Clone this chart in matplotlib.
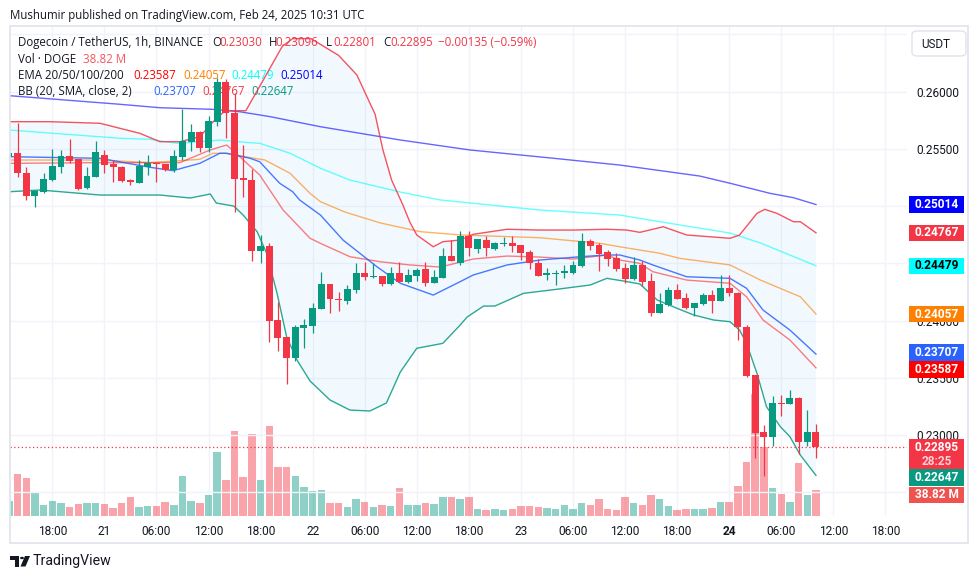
import numpy as np
import matplotlib
matplotlib.use("Agg")
import matplotlib.pyplot as plt
from matplotlib.patches import Rectangle, FancyBboxPatch, Polygon, Circle

plt.rcParams['font.family'] = ['Roboto', 'DejaVu Sans']

# ---------------- data ----------------
# 1h candles DOGE/USDT (Binance). Hour 0 = 2025-02-20 18:00 UTC, first candle at hour -5.
start_hour = -5
opens = [0.25427, 0.25467, 0.25292, 0.25091, 0.25126, 0.25228, 0.25345, 0.25438, 0.25409, 0.25156,
         0.25257, 0.25450, 0.25366, 0.25345, 0.25231, 0.25205, 0.25339, 0.25374, 0.25365, 0.25316,
         0.25432, 0.25560, 0.25650, 0.25505, 0.25738, 0.26082, 0.25811, 0.25243, 0.25228, 0.24611,
         0.24652, 0.24005, 0.23859, 0.23675, 0.23938, 0.23955, 0.24101, 0.24319, 0.24191, 0.24174,
         0.24267, 0.24418, 0.24378, 0.24390, 0.24319, 0.24418, 0.24340, 0.24390, 0.24448, 0.24331,
         0.24375, 0.24564, 0.24500, 0.24739, 0.24628, 0.24704, 0.24628, 0.24672, 0.24680, 0.24660,
         0.24597, 0.24500, 0.24401, 0.24407, 0.24418, 0.24418, 0.24477, 0.24695, 0.24660, 0.24597,
         0.24549, 0.24457, 0.24363, 0.24486, 0.24348, 0.24069, 0.24136, 0.24267, 0.24197, 0.24112,
         0.24145, 0.24223, 0.24174, 0.24287, 0.24238, 0.23946, 0.23524, 0.23026, 0.22985, 0.23282,
         0.23273, 0.23326, 0.22941, 0.23030]
highs = [0.25470, 0.25724, 0.25342, 0.25140, 0.25289, 0.25499, 0.25490, 0.25584, 0.25412, 0.25339,
         0.25569, 0.25490, 0.25403, 0.25350, 0.25235, 0.25403, 0.25444, 0.25380, 0.25370, 0.25490,
         0.25846, 0.25718, 0.25655, 0.25788, 0.26117, 0.26111, 0.25991, 0.25534, 0.25322, 0.24748,
         0.24680, 0.24165, 0.23860, 0.23959, 0.24011, 0.24151, 0.24427, 0.24320, 0.24252, 0.24310,
         0.24506, 0.24514, 0.24506, 0.24392, 0.24471, 0.24512, 0.24450, 0.24457, 0.24514, 0.24442,
         0.24631, 0.24704, 0.24783, 0.24783, 0.24715, 0.24739, 0.24685, 0.24728, 0.24739, 0.24662,
         0.24617, 0.24538, 0.24457, 0.24442, 0.24486, 0.24523, 0.24763, 0.24710, 0.24675, 0.24617,
         0.24588, 0.24500, 0.24552, 0.24520, 0.24413, 0.24238, 0.24295, 0.24319, 0.24238, 0.24155,
         0.24243, 0.24267, 0.24398, 0.24398, 0.24252, 0.23961, 0.23525, 0.23087, 0.23341, 0.23349,
         0.23393, 0.23330, 0.23218, 0.23096]
lows = [0.25420, 0.25257, 0.25054, 0.24995, 0.25115, 0.25220, 0.25287, 0.25374, 0.25141, 0.25150,
        0.25255, 0.25292, 0.25214, 0.25215, 0.25182, 0.25200, 0.25272, 0.25214, 0.25310, 0.25298,
        0.25403, 0.25484, 0.25476, 0.25476, 0.25703, 0.25593, 0.24951, 0.25077, 0.24523, 0.24506,
        0.23815, 0.23737, 0.23443, 0.23647, 0.23758, 0.23889, 0.24100, 0.24069, 0.24086, 0.24142,
        0.24243, 0.24354, 0.24375, 0.24301, 0.24315, 0.24335, 0.24326, 0.24348, 0.24301, 0.24325,
        0.24370, 0.24520, 0.24490, 0.24564, 0.24593, 0.24564, 0.24617, 0.24652, 0.24602, 0.24529,
        0.24451, 0.24390, 0.24354, 0.24310, 0.24375, 0.24407, 0.24471, 0.24617, 0.24433, 0.24477,
        0.24436, 0.24326, 0.24355, 0.24301, 0.24040, 0.24065, 0.24130, 0.24185, 0.24101, 0.24040,
        0.24136, 0.24069, 0.24170, 0.24215, 0.23830, 0.23504, 0.22802, 0.22644, 0.22904, 0.23169,
        0.23270, 0.22834, 0.22906, 0.22801]
closes = [0.25467, 0.25292, 0.25091, 0.25132, 0.25237, 0.25351, 0.25435, 0.25397, 0.25152, 0.25263,
          0.25473, 0.25359, 0.25339, 0.25220, 0.25208, 0.25351, 0.25374, 0.25365, 0.25316, 0.25438,
          0.25569, 0.25645, 0.25505, 0.25744, 0.26082, 0.25811, 0.25234, 0.25228, 0.24611, 0.24652,
          0.23999, 0.23850, 0.23675, 0.23946, 0.23961, 0.24112, 0.24319, 0.24186, 0.24180, 0.24276,
          0.24418, 0.24383, 0.24390, 0.24319, 0.24418, 0.24340, 0.24398, 0.24442, 0.24331, 0.24381,
          0.24564, 0.24523, 0.24739, 0.24631, 0.24710, 0.24631, 0.24675, 0.24680, 0.24654, 0.24593,
          0.24500, 0.24392, 0.24413, 0.24418, 0.24431, 0.24486, 0.24695, 0.24652, 0.24582, 0.24538,
          0.24451, 0.24363, 0.24486, 0.24340, 0.24069, 0.24145, 0.24267, 0.24189, 0.24112, 0.24151,
          0.24223, 0.24174, 0.24287, 0.24238, 0.23941, 0.23516, 0.23020, 0.22985, 0.23282, 0.23273,
          0.23326, 0.22941, 0.23030, 0.22895]
volumes_m = [23, 64, 58, 37, 17, 23, 20, 14, 18, 20,
             20, 18, 12, 20, 29, 14, 15, 15, 21, 17,
             61, 23, 20, 32, 98, 55, 130, 60, 126, 55,
             138, 75, 74, 61, 44, 38, 40, 20, 20, 14,
             26, 21, 14, 17, 15, 43, 17, 17, 20, 18,
             28, 28, 26, 28, 11, 9, 11, 9, 11, 15,
             15, 14, 12, 11, 17, 11, 20, 17, 26, 11,
             9, 28, 20, 17, 31, 25, 15, 9, 11, 11,
             11, 12, 21, 21, 46, 83, 187, 106, 43, 34,
             21, 81, 31, 38.82]

# indicator lines: (hour, price)
ema20_t = [-4.9, 5.5, 14.7, 18.2, 20.1, 21.6, 23.9, 26.6, 29.7, 30.9, 34.3, 37.8, 41.2, 44.7, 48.5, 52.4,
           56.2, 60.0, 63.9, 65.4, 67.7, 69.2, 73.1, 78.1, 80.0, 81.9, 85.0, 88]
ema20_v = [0.25374, 0.2538, 0.2538, 0.25491, 0.25534, 0.25432, 0.25272, 0.24966, 0.24719, 0.24675,
           0.24558, 0.24514, 0.24486, 0.24468, 0.24538, 0.24564, 0.24555, 0.24538, 0.24573, 0.24529,
           0.245, 0.24427, 0.24354, 0.24326, 0.24208, 0.24005, 0.2383, 0.23587]
ema50_t = [-4.9, 5.5, 11.3, 17.0, 18.5, 19.9, 22.2, 24.5, 27.4, 29.7, 30.9, 33.7, 37.8, 42.4, 47.0, 56.2,
           63.1, 65.4, 70.0, 72.3, 78.1, 81.6, 86.2, 88]
ema50_v = [0.25403, 0.25403, 0.2538, 0.25409, 0.25462, 0.25462, 0.25432, 0.25403, 0.25287, 0.25112,
           0.25039, 0.24949, 0.24853, 0.24777, 0.24748, 0.24724, 0.24675, 0.24645, 0.24588, 0.24544,
           0.24486, 0.24354, 0.24208, 0.24057]
ema100_t = [-4.9, 7.8, 11.3, 14.4, 18.5, 19.3, 22.8, 23.9, 27.4, 30.9, 34.3, 40.1, 44.7, 56.2, 65.4, 70.0,
            78.1, 81.6, 88]
ema100_v = [0.25665, 0.25593, 0.25584, 0.25549, 0.25572, 0.25578, 0.25554, 0.25549, 0.25462, 0.25331,
            0.25228, 0.25123, 0.25054, 0.24966, 0.24922, 0.24864, 0.24765, 0.24678, 0.24479]
ema200_t = [-4.9, 7.8, 12.4, 18.5, 21.6, 25.1, 30.9, 40.1, 48.1, 57.4, 65.4, 74.6, 78.1, 82.7, 85.4, 88]
ema200_v = [0.25965, 0.2589, 0.2586, 0.25846, 0.25825, 0.25782, 0.25694, 0.25578, 0.25491, 0.25421,
            0.25359, 0.25263, 0.252, 0.25112, 0.25074, 0.25014]
bb_mid_t = [-4.9, 5.5, 11.3, 13.9, 17.0, 19.3, 20.1, 22.8, 23.9, 26.2, 27.7, 28.5, 30.9, 33.5, 37.4, 40.1,
            43.9, 47.0, 48.5, 52.4, 56.2, 60.8, 63.9, 65.4, 67.7, 69.2, 73.1, 78.1, 80.0, 81.9, 85.0, 88]
bb_mid_v = [0.25432, 0.25418, 0.25339, 0.2531, 0.25374, 0.25462, 0.25462, 0.25418, 0.25388, 0.252,
            0.25126, 0.25054, 0.24922, 0.24704, 0.24471, 0.24326, 0.24223, 0.2434, 0.24398, 0.24486,
            0.24529, 0.24558, 0.24573, 0.24573, 0.24529, 0.24486, 0.24383, 0.24369, 0.24282, 0.24092,
            0.23917, 0.23707]
bb_up_t = [-4.9, -0.3, 5.5, 10.1, 12.4, 14.7, 17.0, 18.5, 19.9, 22.3, 24.4, 26.5, 27.7, 29.8, 33.0, 35.1,
           37.2, 38.1, 39.1, 40.4, 41.2, 42.0, 43.9, 45.0, 47.0, 48.5, 52.4, 56.2, 60.0, 63.9, 66.2, 67.7,
           70.4, 73.1, 78.1, 79.2, 81.2, 82.1, 83.5, 85.4, 86.2, 88]
bb_up_v = [0.25738, 0.25738, 0.25724, 0.25636, 0.25563, 0.25563, 0.25607, 0.25735, 0.25834, 0.25834,
           0.26114, 0.26396, 0.26464, 0.26464, 0.26317, 0.26146, 0.25802, 0.25491, 0.25228, 0.2501,
           0.24861, 0.24748, 0.24645, 0.24689, 0.24704, 0.24754, 0.24798, 0.24791, 0.24791, 0.24798,
           0.24791, 0.24771, 0.2482, 0.24748, 0.24719, 0.24748, 0.24937, 0.24972, 0.24937, 0.24864,
           0.24864, 0.24767]
bb_lo_t = [-4.9, -1.4, 5.5, 12.4, 15.9, 18.2, 18.9, 20.9, 22.0, 23.6, 24.7, 25.9, 27.0, 28.2, 29.7, 32.0,
           34.3, 36.6, 38.5, 40.1, 42.0, 45.0, 47.0, 47.8, 49.7, 51.0, 54.3, 58.1, 62.0, 63.9, 65.8, 67.7,
           69.7, 72.0, 73.9, 76.2, 78.1, 79.2, 80.0, 81.2, 82.3, 83.9, 85.0, 86.2, 88]
bb_lo_v = [0.25126, 0.25141, 0.25097, 0.25097, 0.25071, 0.25106, 0.25027, 0.25001, 0.24922, 0.24777,
           0.24588, 0.24238, 0.23859, 0.23655, 0.23472, 0.23306, 0.23218, 0.2321, 0.2328, 0.2355,
           0.23758, 0.23801, 0.23961, 0.24031, 0.24127, 0.24127, 0.24238, 0.24273, 0.24311, 0.24369,
           0.24346, 0.2432, 0.2418, 0.24107, 0.24049, 0.24005, 0.2399, 0.23917, 0.23801, 0.23539,
           0.23247, 0.23072, 0.22985, 0.22825, 0.22647]

time_tick_hours = [0, 6, 12, 18, 24, 30, 36, 42, 48, 54, 60, 66, 72, 78, 84, 90, 96]
time_tick_labels = ["18:00", "21", "06:00", "12:00", "18:00", "22", "06:00", "12:00", "18:00", "23",
                    "06:00", "12:00", "18:00", "24", "06:00", "12:00", "18:00"]
bold_tick_labels = ["24"]
price_ticks = [0.225, 0.230, 0.235, 0.240, 0.245, 0.250, 0.255, 0.260, 0.265]

title_text = "Mushumir published on TradingView.com, Feb 24, 2025 10:31 UTC"
symbol_text = "Dogecoin / TetherUS, 1h, BINANCE"
countdown = "28:25"

# ---------------- style / layout ----------------
W, H = 980, 579
UP, DN, TXT, GRID = '#089981', '#F23645', '#131722', '#F0F3FA'
PL, PR, PT, PB = 10, 907, 26.7, 515.7
XLIM = (-4.874, 98.49)
YLIM = (0.22295, 0.26568)
VLIM = (0, 750)
LEG_FONT = ['Open Sans', 'DejaVu Sans']

fig = plt.figure(figsize=(W / 100, H / 100), dpi=100)
fig.patch.set_facecolor('white')
rect = [PL / W, 1 - PB / H, (PR - PL) / W, (PB - PT) / H]
vax = fig.add_axes(rect)
ax = fig.add_axes(rect)
ax.patch.set_visible(False)
vax.patch.set_visible(False)
for a in (vax, ax):
    for s in a.spines.values():
        s.set_visible(False)
    a.set_xlim(*XLIM)
vax.set_ylim(*VLIM)
ax.set_ylim(*YLIM)
vax.set_xticks([])
vax.set_yticks([])

hours = np.arange(start_hour, start_hour + len(opens))
o = np.array(opens); h = np.array(highs); l = np.array(lows); c = np.array(closes)
up = c >= o
cols = np.where(up, UP, DN)

# grid
for t in time_tick_hours:
    vax.axvline(t, color=GRID, lw=1.0, zorder=0)
for p in price_ticks:
    ax.axhline(p, color=GRID, lw=1.0, zorder=0)

# volume
vax.bar(hours, volumes_m, width=0.86, color=cols, alpha=0.45, linewidth=0, zorder=2)

# Bollinger fill
poly_t = np.concatenate([bb_up_t, bb_lo_t[::-1]])
poly_v = np.concatenate([bb_up_v, bb_lo_v[::-1]])
ax.fill(poly_t, poly_v, color='#2196F3', alpha=0.055, linewidth=0, zorder=1)

# lines
ax.plot(ema200_t, ema200_v, color='#0000FF', lw=1.0, alpha=0.6, zorder=2)
ax.plot(ema100_t, ema100_v, color='#00FFFF', lw=1.0, alpha=0.6, zorder=2)
ax.plot(ema50_t, ema50_v, color='#FF7F00', lw=1.0, alpha=0.6, zorder=2)
ax.plot(ema20_t, ema20_v, color='#FF0000', lw=1.0, alpha=0.5, zorder=2)
ax.plot(bb_up_t, bb_up_v, color=DN, lw=1.0, alpha=0.85, zorder=2)
ax.plot(bb_lo_t, bb_lo_v, color=UP, lw=1.0, alpha=0.85, zorder=2)
ax.plot(bb_mid_t, bb_mid_v, color='#2962FF', lw=1.0, alpha=0.85, zorder=2)

# candles
ax.vlines(hours, l, h, colors=cols, lw=0.9, zorder=4)
body = np.maximum(np.abs(c - o), 0.00004)
ax.bar(hours, body, bottom=np.minimum(o, c), width=0.8, color=cols, linewidth=0, zorder=5)

# last price line
ax.axhline(closes[-1], color=DN, lw=0.9, ls=(0, (1, 2)), zorder=3)

# axes ticks
ax.set_xticks(time_tick_hours)
ax.set_xticklabels(time_tick_labels)
for lab in ax.get_xticklabels():
    if lab.get_text() in bold_tick_labels:
        lab.set_fontweight('bold')
ax.tick_params(axis='x', length=0, pad=6.5, labelsize=8.6, labelcolor=TXT)
ax.yaxis.tick_right()
ax.set_yticks(price_ticks)
ax.tick_params(axis='y', length=0, pad=7.0, labelsize=8.6, labelcolor=TXT)

# frame
fig.patches.append(Rectangle((9.5 / W, 1 - 543 / H), (968 - 9.5) / W, (543 - 26) / H,
                             transform=fig.transFigure, fill=False, edgecolor='#E0E3EB', lw=1.2, zorder=0.5))


def ftext(x, y, s, **kw):
    kw.setdefault('fontsize', 8.3)
    kw.setdefault('color', TXT)
    kw.setdefault('va', 'center')
    return fig.text(x / W, 1 - y / H, s, **kw)


def ltext(x, y, s, **kw):
    # legend text: above grid/fill but beneath indicator lines and candles, like the reference
    kw.setdefault('family', LEG_FONT)
    kw.setdefault('fontsize', 8.3)
    kw.setdefault('color', TXT)
    return ax.text(x / W, 1 - y / H, s, transform=fig.transFigure, va='center', zorder=1.5,
                   clip_on=False, **kw)


# title and legend
ftext(10, 15.5, title_text, fontsize=8.3, family=LEG_FONT)
y1 = 42.7
ltext(17.5, y1, symbol_text)
chg = closes[-1] - closes[-2]
pct = chg / closes[-2] * 100
for lx, key, val in [(212.5, "O", opens[-1]), (268.6, "H", highs[-1]), (325.7, "L", lows[-1]), (382.9, "C", closes[-1])]:
    ltext(lx, y1, key)
    ltext(lx + 7.2, y1, f"{val:.5f}", color=DN)
ltext(437.5, y1, f"\u2212{abs(chg):.5f} (\u2212{abs(pct):.2f}%)", color=DN)
ltext(17.5, 59.2, "Vol \u00b7 DOGE")
ltext(82.9, 59.2, f"{volumes_m[-1]:.2f} M", color='#F7525F')
ltext(17.5, 75.5, "EMA 20/50/100/200")
ltext(132.9, 75.5, f"{ema20_v[-1]:.5f}", color='#FF0000')
ltext(182.9, 75.5, f"{ema50_v[-1]:.5f}", color='#FF7F00')
ltext(231.4, 75.5, f"{ema100_v[-1]:.5f}", color='#00FFFF')
ltext(280.4, 75.5, f"{ema200_v[-1]:.5f}", color='#0000FF')
ltext(17.5, 91.8, "BB (20, SMA, close, 2)")
ltext(153.6, 91.8, f"{bb_mid_v[-1]:.5f}", color='#2962FF')
ltext(202.6, 91.8, f"{bb_up_v[-1]:.5f}", color=DN)
ltext(251.6, 91.8, f"{bb_lo_v[-1]:.5f}", color=UP)

# USDT button
USDT_TOP, USDT_BOT = 31, 56
fig.patches.append(FancyBboxPatch((912 / W, 1 - USDT_BOT / H), 54 / W, (USDT_BOT - USDT_TOP) / H,
                                  boxstyle="round,pad=0,rounding_size=0.006", transform=fig.transFigure,
                                  facecolor='white', edgecolor='#E0E3EB', lw=1.0, zorder=2))
ftext(935.5, 44.3, "USDT", ha='center', fontsize=8.4, zorder=4)


# right-axis value labels with collision handling
def py(v, axis):
    return H - axis.transData.transform((0, v))[1]


items = []
for v, bg, fg in [(ema200_v[-1], '#0000FF', 'white'), (bb_up_v[-1], DN, 'white'),
                  (ema100_v[-1], '#00FFFF', 'black'), (ema50_v[-1], '#FF7F00', 'white'),
                  (bb_mid_v[-1], '#2962FF', 'white'), (ema20_v[-1], '#FF0000', 'white'),
                  (bb_lo_v[-1], UP, 'white')]:
    items.append(dict(y=py(v, ax), top=8.2, bot=8.2, fixed=False, kind='one', text=f"{v:.5f}", bg=bg, fg=fg))
items.append(dict(y=py(closes[-1], ax), top=7.7, bot=21.6, fixed=True, kind='last',
                  text=f"{closes[-1]:.5f}", bg=DN, fg='white'))
items.append(dict(y=py(volumes_m[-1], vax), top=8.0, bot=8.0, fixed=False, kind='one',
                  text=f"{volumes_m[-1]:.2f} M", bg='#EF5350', fg='white'))
items.sort(key=lambda d: d['y'])
GAP = 0.8
for _ in range(300):
    moved = False
    for a, b in zip(items, items[1:]):
        ov = (a['y'] + a['bot'] + GAP) - (b['y'] - b['top'])
        if ov > 1e-3:
            moved = True
            if a['fixed']:
                b['y'] += ov
            elif b['fixed']:
                a['y'] -= ov
            else:
                a['y'] -= ov / 2
                b['y'] += ov / 2
    if not moved:
        break

# price-scale labels: those hidden behind a value box / the USDT button are left blank
covers = [(it['y'] - it['top'], it['y'] + it['bot']) for it in items]
tick_labels = []
for p in price_ticks:
    ty = py(p, ax)
    hidden = any(t0 <= ty - 4.5 and ty + 4.5 <= t1 for t0, t1 in covers) or (USDT_TOP - 6 <= ty <= USDT_BOT)
    tick_labels.append("" if hidden else f"{p:.5f}")
ax.set_yticklabels(tick_labels)

BX0, BX1 = 909, 964
for it in items:
    top = it['y'] - it['top']
    hgt = it['top'] + it['bot']
    fig.patches.append(Rectangle((BX0 / W, 1 - (top + hgt) / H), (BX1 - BX0) / W, hgt / H,
                                 transform=fig.transFigure, facecolor=it['bg'], edgecolor='none', zorder=2))
    ftext(936.5, it['y'], it['text'], ha='center', color=it['fg'], fontsize=8.6, fontweight='bold', zorder=4)
    if it['kind'] == 'last':
        ftext(936.5, it['y'] + 14.8, countdown, ha='center', color='#FBD0D4', fontsize=8.6,
              fontweight='bold', zorder=4)

# TradingView logo
fig.patches.append(Polygon([(10 / W, 1 - 556 / H), (19 / W, 1 - 556 / H), (19 / W, 1 - 566.5 / H),
                            (15 / W, 1 - 566.5 / H), (15 / W, 1 - 560 / H), (10 / W, 1 - 560 / H)],
                           closed=True, transform=fig.transFigure, facecolor=TXT, edgecolor='none'))
fig.patches.append(Circle((22 / W, 1 - 558 / H), 2.0 / W, transform=fig.transFigure, facecolor=TXT,
                          edgecolor='none'))
fig.patches.append(Polygon([(25 / W, 1 - 556 / H), (30 / W, 1 - 556 / H), (25.5 / W, 1 - 566.5 / H),
                            (20.5 / W, 1 - 566.5 / H)], closed=True, transform=fig.transFigure,
                           facecolor=TXT, edgecolor='none'))
ftext(33, 561, "TradingView", fontsize=10.2, color=TXT)

fig.savefig("out.png", dpi=100, facecolor='white')
